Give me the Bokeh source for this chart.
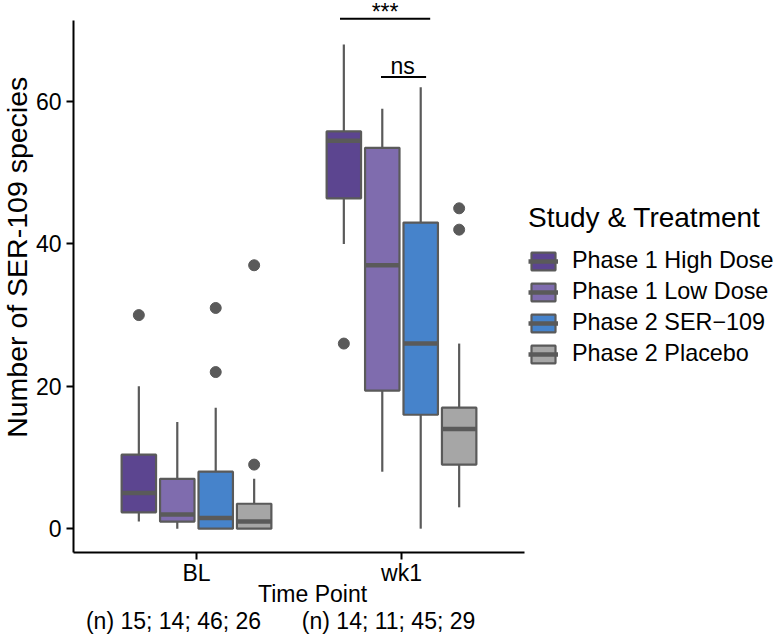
import math
from bokeh.plotting import figure
from bokeh.models import (ColumnDataSource, Range1d, FixedTicker, Label, Legend, LegendItem,
                          LinearAxis)
from bokeh.embed import file_html
from bokeh.resources import INLINE

# ---------------- data ----------------
timepoints = ["BL", "wk1"]
groups = ["Phase 1 High Dose", "Phase 1 Low Dose", "Phase 2 SER\u2212109", "Phase 2 Placebo"]
fill_colors = ["#5c4590", "#7f6cae", "#4683cb", "#a6a6a6"]

# box-plot statistics per group (order as in groups), for each time point
lower_bl = [1, 0, 0, 0]
q1_bl = [2.3, 1, 0, 0]
median_bl = [5, 2, 1.5, 1]
q3_bl = [10.4, 7, 8, 3.5]
upper_bl = [20, 15, 17, 7]

lower_wk1 = [40, 8, 0, 3]
q1_wk1 = [46.4, 19.4, 16, 9]
median_wk1 = [54.5, 37, 26, 14]
q3_wk1 = [55.8, 53.5, 43, 17]
upper_wk1 = [68, 59, 62, 26]

# outliers
outlier_timepoint = ["BL", "BL", "BL", "BL", "BL", "wk1", "wk1", "wk1"]
outlier_group = [0, 2, 2, 3, 3, 0, 3, 3]
outlier_value = [30, 22, 31, 9, 37, 26, 42, 45]

# sample sizes
n_bl = [15, 14, 46, 26]
n_wk1 = [14, 11, 45, 29]

# significance brackets
bracket_x0 = [1.70, 1.90]
bracket_x1 = [2.14, 2.12]
bracket_y = [71.63, 63.46]
bracket_text = ["***", "ns"]

y_ticks = [0, 20, 40, 60]

# ---------------- figure ----------------
FONT = "Liberation Sans"
OUTLINE = "#5a5a5a"
DODGE = 0.1875
BOX_W = 0.168

# plotting window: categories at 1 and 2 with 0.6 padding, y padded 5 %
x_lo, x_hi = 0.4, 2.6
y_lo, y_hi = -3.34, 71.4

p = figure(width=776, height=634, output_backend="svg", toolbar_location=None,
           x_axis_location=None, y_axis_location=None,
           x_range=Range1d(0.0439, 3.8293), y_range=Range1d(-14.865, 74.19),
           min_border_left=0, min_border_right=0, min_border_top=0, min_border_bottom=0)
p.outline_line_color = None
p.grid.visible = False
p.background_fill_color = "white"
p.border_fill_color = "white"

tp_x = {tp: i + 1 for i, tp in enumerate(timepoints)}
stats = {
    "BL": (lower_bl, q1_bl, median_bl, q3_bl, upper_bl),
    "wk1": (lower_wk1, q1_wk1, median_wk1, q3_wk1, upper_wk1),
}

legend_items = []
for j, g in enumerate(groups):
    off = (j - 1.5) * DODGE
    xs, lo, q1, md, q3, up = [], [], [], [], [], []
    for tp in timepoints:
        L, Q1, M, Q3, U = stats[tp]
        xs.append(tp_x[tp] + off)
        lo.append(L[j]); q1.append(Q1[j]); md.append(M[j]); q3.append(Q3[j]); up.append(U[j])
    src = ColumnDataSource(dict(
        x=xs, lower=lo, q1=q1, median=md, q3=q3, upper=up,
        xl=[v - BOX_W / 2 for v in xs], xr=[v + BOX_W / 2 for v in xs]))
    p.segment(x0="x", y0="lower", x1="x", y1="q1", source=src, line_color=OUTLINE, line_width=2.2)
    p.segment(x0="x", y0="q3", x1="x", y1="upper", source=src, line_color=OUTLINE, line_width=2.2)
    box = p.vbar(x="x", width=BOX_W, bottom="q1", top="q3", source=src,
                 fill_color=fill_colors[j], line_color=OUTLINE, line_width=2.2)
    med = p.segment(x0="xl", y0="median", x1="xr", y1="median", source=src,
                    line_color=OUTLINE, line_width=4.5)
    legend_items.append(LegendItem(label=g, renderers=[box, med]))

ox = [tp_x[t] + (g - 1.5) * DODGE for t, g in zip(outlier_timepoint, outlier_group)]
p.scatter(x=ox, y=outlier_value, size=11, fill_color=OUTLINE, line_color=OUTLINE)

# significance brackets
p.segment(x0=bracket_x0, y0=bracket_y, x1=bracket_x1, y1=bracket_y, line_color="black", line_width=2)
p.add_layout(Label(x=(bracket_x0[0] + bracket_x1[0]) / 2, y=72.63, text=bracket_text[0],
                   text_align="center", text_baseline="alphabetic",
                   text_font=FONT, text_font_size="23px", text_color="black"))
p.add_layout(Label(x=2.006, y=65.05, text=bracket_text[1],
                   text_align="center", text_baseline="alphabetic",
                   text_font=FONT, text_font_size="23px", text_color="black"))

# axes, anchored at the lower-left corner of the padded data window
yaxis = LinearAxis(fixed_location=x_lo, bounds=(y_lo, y_hi), ticker=FixedTicker(ticks=y_ticks),
                   major_label_standoff=5)
xaxis = LinearAxis(fixed_location=y_lo, bounds=(x_lo, x_hi),
                   ticker=FixedTicker(ticks=[tp_x[t] for t in timepoints]),
                   major_label_overrides={tp_x[t]: t for t in timepoints},
                   major_label_standoff=1)
for ax in (xaxis, yaxis):
    ax.axis_line_color = "black"
    ax.axis_line_width = 2
    ax.major_tick_line_color = "black"
    ax.major_tick_line_width = 2
    ax.major_tick_out = 7
    ax.major_tick_in = 0
    ax.minor_tick_line_color = None
    ax.major_label_text_font = FONT
    ax.major_label_text_font_size = "23px"
    ax.major_label_text_color = "black"
p.add_layout(yaxis, "left")
p.add_layout(xaxis, "below")

# axis titles and sample sizes
p.add_layout(Label(x=0.1244, y=38.12, text="Number of SER-109 species", angle=math.pi / 2,
                   text_align="center", text_baseline="alphabetic",
                   text_font=FONT, text_font_size="28.5px", text_color="black"))
p.add_layout(Label(x=1.566, y=-9.20, text="Time Point",
                   text_align="center", text_baseline="alphabetic",
                   text_font=FONT, text_font_size="23px", text_color="black"))
n_label_x = [0.888, 1.937]
for nx, ns in zip(n_label_x, (n_bl, n_wk1)):
    p.add_layout(Label(x=nx, y=-12.94, text="(n) " + "; ".join(str(v) for v in ns),
                       text_align="center", text_baseline="alphabetic",
                       text_font=FONT, text_font_size="23px", text_color="black"))

# legend
legend = Legend(items=legend_items, location=(528, 267),
                title="Study & Treatment", title_text_font=FONT, title_text_font_size="28px",
                title_text_font_style="normal", title_text_color="black", title_standoff=13,
                label_text_font=FONT, label_text_font_size="23.4px", label_text_color="black",
                glyph_width=30, glyph_height=22, label_standoff=14,
                spacing=4, padding=0, margin=0,
                border_line_color=None, background_fill_alpha=0)
p.add_layout(legend, "center")

open("out.html", "w").write(file_html(p, INLINE))
